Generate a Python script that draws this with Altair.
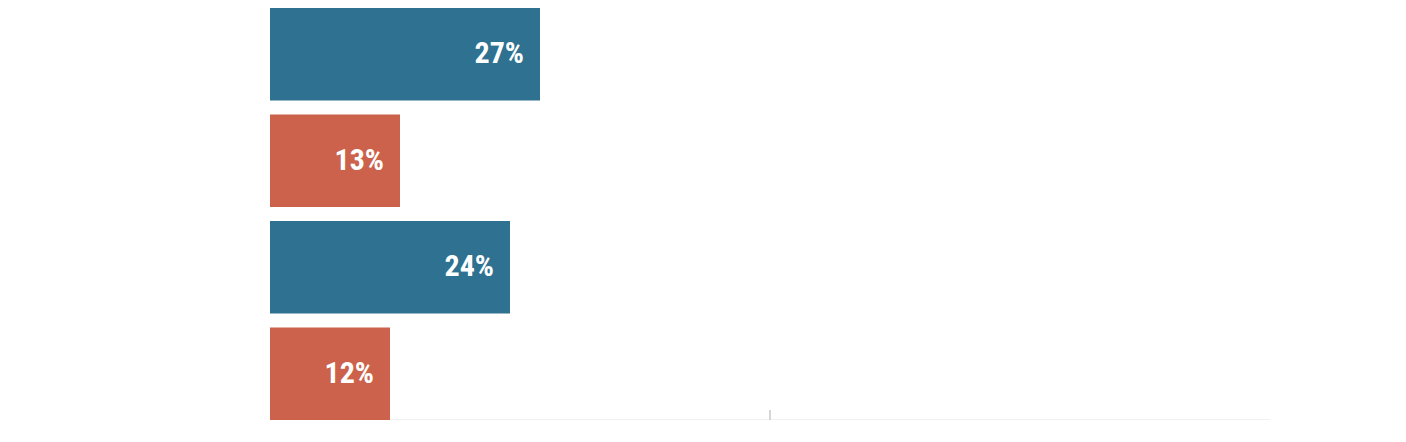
import altair as alt
import pandas as pd

rows = ["a", "b", "c", "d"]
values = [27, 13, 24, 12]
groups = ["blue", "orange", "blue", "orange"]
labels = ["27%", "13%", "24%", "12%"]

df = pd.DataFrame({"row": rows, "value": values, "group": groups, "label": labels})

y = alt.Y("row:N", sort=rows, axis=None,
          scale=alt.Scale(paddingInner=0.13, paddingOuter=0))
x = alt.X("value:Q", scale=alt.Scale(domain=[0, 100]),
          axis=alt.Axis(values=[50], labels=False, title=None, grid=False,
                        domainColor="#c8c8c8", tickColor="#c8c8c8",
                        tickSize=12, domainWidth=1.5))

bars = alt.Chart(df).mark_bar().encode(
    x=x, y=y,
    color=alt.Color("group:N", legend=None,
                    scale=alt.Scale(domain=["blue", "orange"], range=["#2e7190", "#cc624b"])),
)
text = alt.Chart(df).mark_text(align="right", dx=-16, color="white", fontSize=30,
                               fontWeight="bold",
                               font="Liberation Sans Narrow, Roboto Condensed, Roboto").encode(
    x="value:Q", y=alt.Y("row:N", sort=rows), text="label:N")
tick = alt.Chart(pd.DataFrame({"v": [50]})).mark_rule(color="#c8c8c8", strokeWidth=1.5).encode(
    x="v:Q", y=alt.value(402), y2=alt.value(412))

chart = (bars + text + tick).properties(
    width=1000, height=412,
    padding={"left": 262, "top": 0, "right": 0, "bottom": 0},
    autosize=alt.AutoSizeParams(type="none"),
).configure_view(stroke=None)

chart.save("out.html", embed_options={"renderer": "svg", "actions": False})
